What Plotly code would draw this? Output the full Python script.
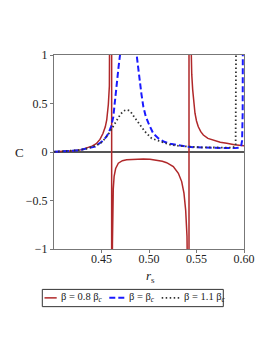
import plotly.graph_objects as go

# ---- data ----
red_x = [0.400, 0.410, 0.420, 0.428, 0.435, 0.440, 0.4445, 0.4484, 0.4515, 0.4540, 0.4555,
         0.4572, 0.4583, 0.4590, 0.4596, 0.4601, 0.4604, 0.4607,
         0.4607, 0.4612, 0.4615, 0.4619, 0.4624, 0.4633, 0.4649, 0.4677, 0.4720, 0.4765,
         0.4850, 0.4940, 0.5010, 0.5081, 0.5140, 0.5186, 0.5256, 0.5309, 0.5344, 0.5368,
         0.5386, 0.5400, 0.5407, 0.5414, 0.5421,
         0.5421, 0.5428, 0.5434, 0.5442, 0.5450, 0.5460, 0.5472, 0.5484, 0.5500, 0.5519,
         0.5545, 0.5572, 0.5620, 0.5677, 0.5750, 0.5818, 0.5900, 0.6000]
red_C = [0.003, 0.006, 0.012, 0.022, 0.040, 0.060, 0.085, 0.13, 0.19, 0.26, 0.33,
         0.49, 0.68, 0.95, 1.4, 2.5, 6.0, 30.0,
         -30.0, -1.5, -0.95, -0.6, -0.38, -0.25, -0.17, -0.115, -0.09, -0.08,
         -0.074, -0.072, -0.074, -0.082, -0.095, -0.11, -0.15, -0.22, -0.305, -0.425,
         -0.6, -0.87, -1.1, -2.0, -30.0,
         30.0, 3.0, 1.5, 1.0, 0.80, 0.64, 0.50, 0.40, 0.32, 0.26,
         0.21, 0.175, 0.14, 0.12, 0.10, 0.09, 0.075, 0.065]

blue_x = [0.400, 0.410, 0.420, 0.428, 0.435, 0.4432, 0.4502, 0.4545, 0.4572, 0.4600, 0.4624,
          0.4637, 0.4650, 0.4665, 0.4680, 0.4695, 0.4720, 0.4760, 0.4780, 0.4800, 0.4840,
          0.4870, 0.4890, 0.4905, 0.4920, 0.4940, 0.4965, 0.4993, 0.5020, 0.5045, 0.5100,
          0.5160, 0.5224, 0.5300, 0.5400, 0.5500, 0.5600, 0.5700, 0.5800, 0.5900, 0.5950,
          0.5970, 0.5980, 0.5986, 0.5990]
blue_C = [0.002, 0.006, 0.013, 0.022, 0.035, 0.055, 0.106, 0.15, 0.19, 0.26, 0.36,
          0.50, 0.64, 0.77, 0.88, 1.0, 1.3, 2.5, 5.0, 3.0, 1.5,
          1.0, 0.82, 0.71, 0.60, 0.47, 0.37, 0.30, 0.24, 0.19, 0.14,
          0.105, 0.085, 0.07, 0.055, 0.048, 0.044, 0.042, 0.040, 0.040, 0.045,
          0.06, 0.12, 0.4, 2.0]

black_x = [0.400, 0.415, 0.425, 0.433, 0.440, 0.445, 0.450, 0.454, 0.459, 0.462, 0.466,
           0.470, 0.4735, 0.4765, 0.4785, 0.481, 0.4845, 0.4888, 0.4958, 0.5028, 0.5084,
           0.5150, 0.5224, 0.530, 0.540, 0.550, 0.560, 0.570, 0.580, 0.588, 0.5912,
           0.5917, 0.5920]
black_C = [0.002, 0.008, 0.018, 0.03, 0.05, 0.07, 0.10, 0.14, 0.21, 0.26, 0.33,
           0.39, 0.425, 0.435, 0.43, 0.41, 0.36, 0.30, 0.21, 0.14, 0.12,
           0.095, 0.075, 0.065, 0.055, 0.05, 0.047, 0.045, 0.044, 0.045, 0.06,
           0.3, 2.0]

x_ticks = [0.45, 0.50, 0.55, 0.60]
y_ticks = [-1, -0.5, 0, 0.5, 1]
y_ticktext = ["\u22121", "\u22120.5", "0", "0.5", "1"]
legend_names = ["\u03b2 = 0.8 \u03b2<sub><i>c</i></sub>",
                "\u03b2 = \u03b2<sub><i>c</i></sub>",
                "\u03b2 = 1.1 \u03b2<sub><i>c</i></sub>"]

RED = "#b0282a"
BLUE = "#1a1aff"
BLACK = "#333333"
SERIF = "Liberation Serif"

fig = go.Figure()
fig.add_trace(go.Scatter(x=red_x, y=red_C, mode="lines",
                         line=dict(color=RED, width=1.5), showlegend=False))
fig.add_trace(go.Scatter(x=blue_x, y=blue_C, mode="lines",
                         line=dict(color=BLUE, width=2, dash="6px,3px"), showlegend=False))
fig.add_trace(go.Scatter(x=black_x, y=black_C, mode="lines",
                         line=dict(color=BLACK, width=1.8, dash="1.5px,2.5px"), showlegend=False))

# page has an 8px body margin; positions below are in page pixels
OFF = 8
W, H = 274, 355
PL, PR, PT, PB = 54, 244, 55, 249.5   # plot area in page pixels
L = PL - OFF
T = PT - OFF
R = W - (PR - OFF)
B = H - (PB - OFF)
pw, ph = W - L - R, H - T - B

def px2paper_x(px):
    return (px - PL) / pw

def py2paper_y(py):
    return (PB - py) / ph

fig.update_layout(
    width=W, height=H,
    margin=dict(l=L, r=R, t=T, b=B),
    paper_bgcolor="white", plot_bgcolor="white",
    font=dict(family=SERIF, size=12, color="#222"),
    xaxis=dict(range=[0.4, 0.6], tickvals=x_ticks, ticktext=[f"{v:.2f}" for v in x_ticks],
               showgrid=False, zeroline=False, showline=True, mirror=True,
               linecolor="#777", linewidth=1.2, ticks="outside", ticklen=3,
               tickcolor="#777", tickfont=dict(family=SERIF, size=12),
               ticklabelstandoff=-5),
    yaxis=dict(range=[-1, 1], tickvals=y_ticks, ticktext=y_ticktext,
               showgrid=False, zeroline=True, zerolinecolor="#555", zerolinewidth=1.6,
               showline=True, mirror=True, linecolor="#777", linewidth=1.2,
               ticks="outside", ticklen=3, tickcolor="#777",
               tickfont=dict(family=SERIF, size=12)),
)

# axis titles
fig.add_annotation(text="C", xref="paper", yref="paper", x=px2paper_x(19), y=0.5,
                   showarrow=False, font=dict(family=SERIF, size=13), xanchor="center",
                   yanchor="middle")
fig.add_annotation(text="<i>r</i><sub>s</sub>", xref="paper", yref="paper",
                   x=px2paper_x(150), y=py2paper_y(277), showarrow=False,
                   font=dict(family=SERIF, size=13), xanchor="center", yanchor="middle")

# custom legend
box = (42.3, 290, 223.3, 307.3)
fig.add_shape(type="rect", xref="paper", yref="paper",
              x0=px2paper_x(box[0]), x1=px2paper_x(box[2]),
              y0=py2paper_y(box[3]), y1=py2paper_y(box[1]),
              line=dict(color="#333", width=1), fillcolor="white")
ly = py2paper_y(298.5)
samples = [(44.5, 56.7, RED, 1.5, "solid", 59),
           (109.3, 125, BLUE, 2, "6px,3px", 127),
           (161.7, 180, BLACK, 1.8, "1.5px,2.5px", 182)]
for (x0, x1, col, w, dash, tx), name in zip(samples, legend_names):
    fig.add_shape(type="line", xref="paper", yref="paper",
                  x0=px2paper_x(x0), x1=px2paper_x(x1), y0=ly, y1=ly,
                  line=dict(color=col, width=w, dash=dash))
    fig.add_annotation(text=name, xref="paper", yref="paper", x=px2paper_x(tx), y=ly,
                       showarrow=False, xanchor="left", yanchor="middle",
                       font=dict(family=SERIF, size=10.5, color="#222"))

fig.write_html("out.html")
